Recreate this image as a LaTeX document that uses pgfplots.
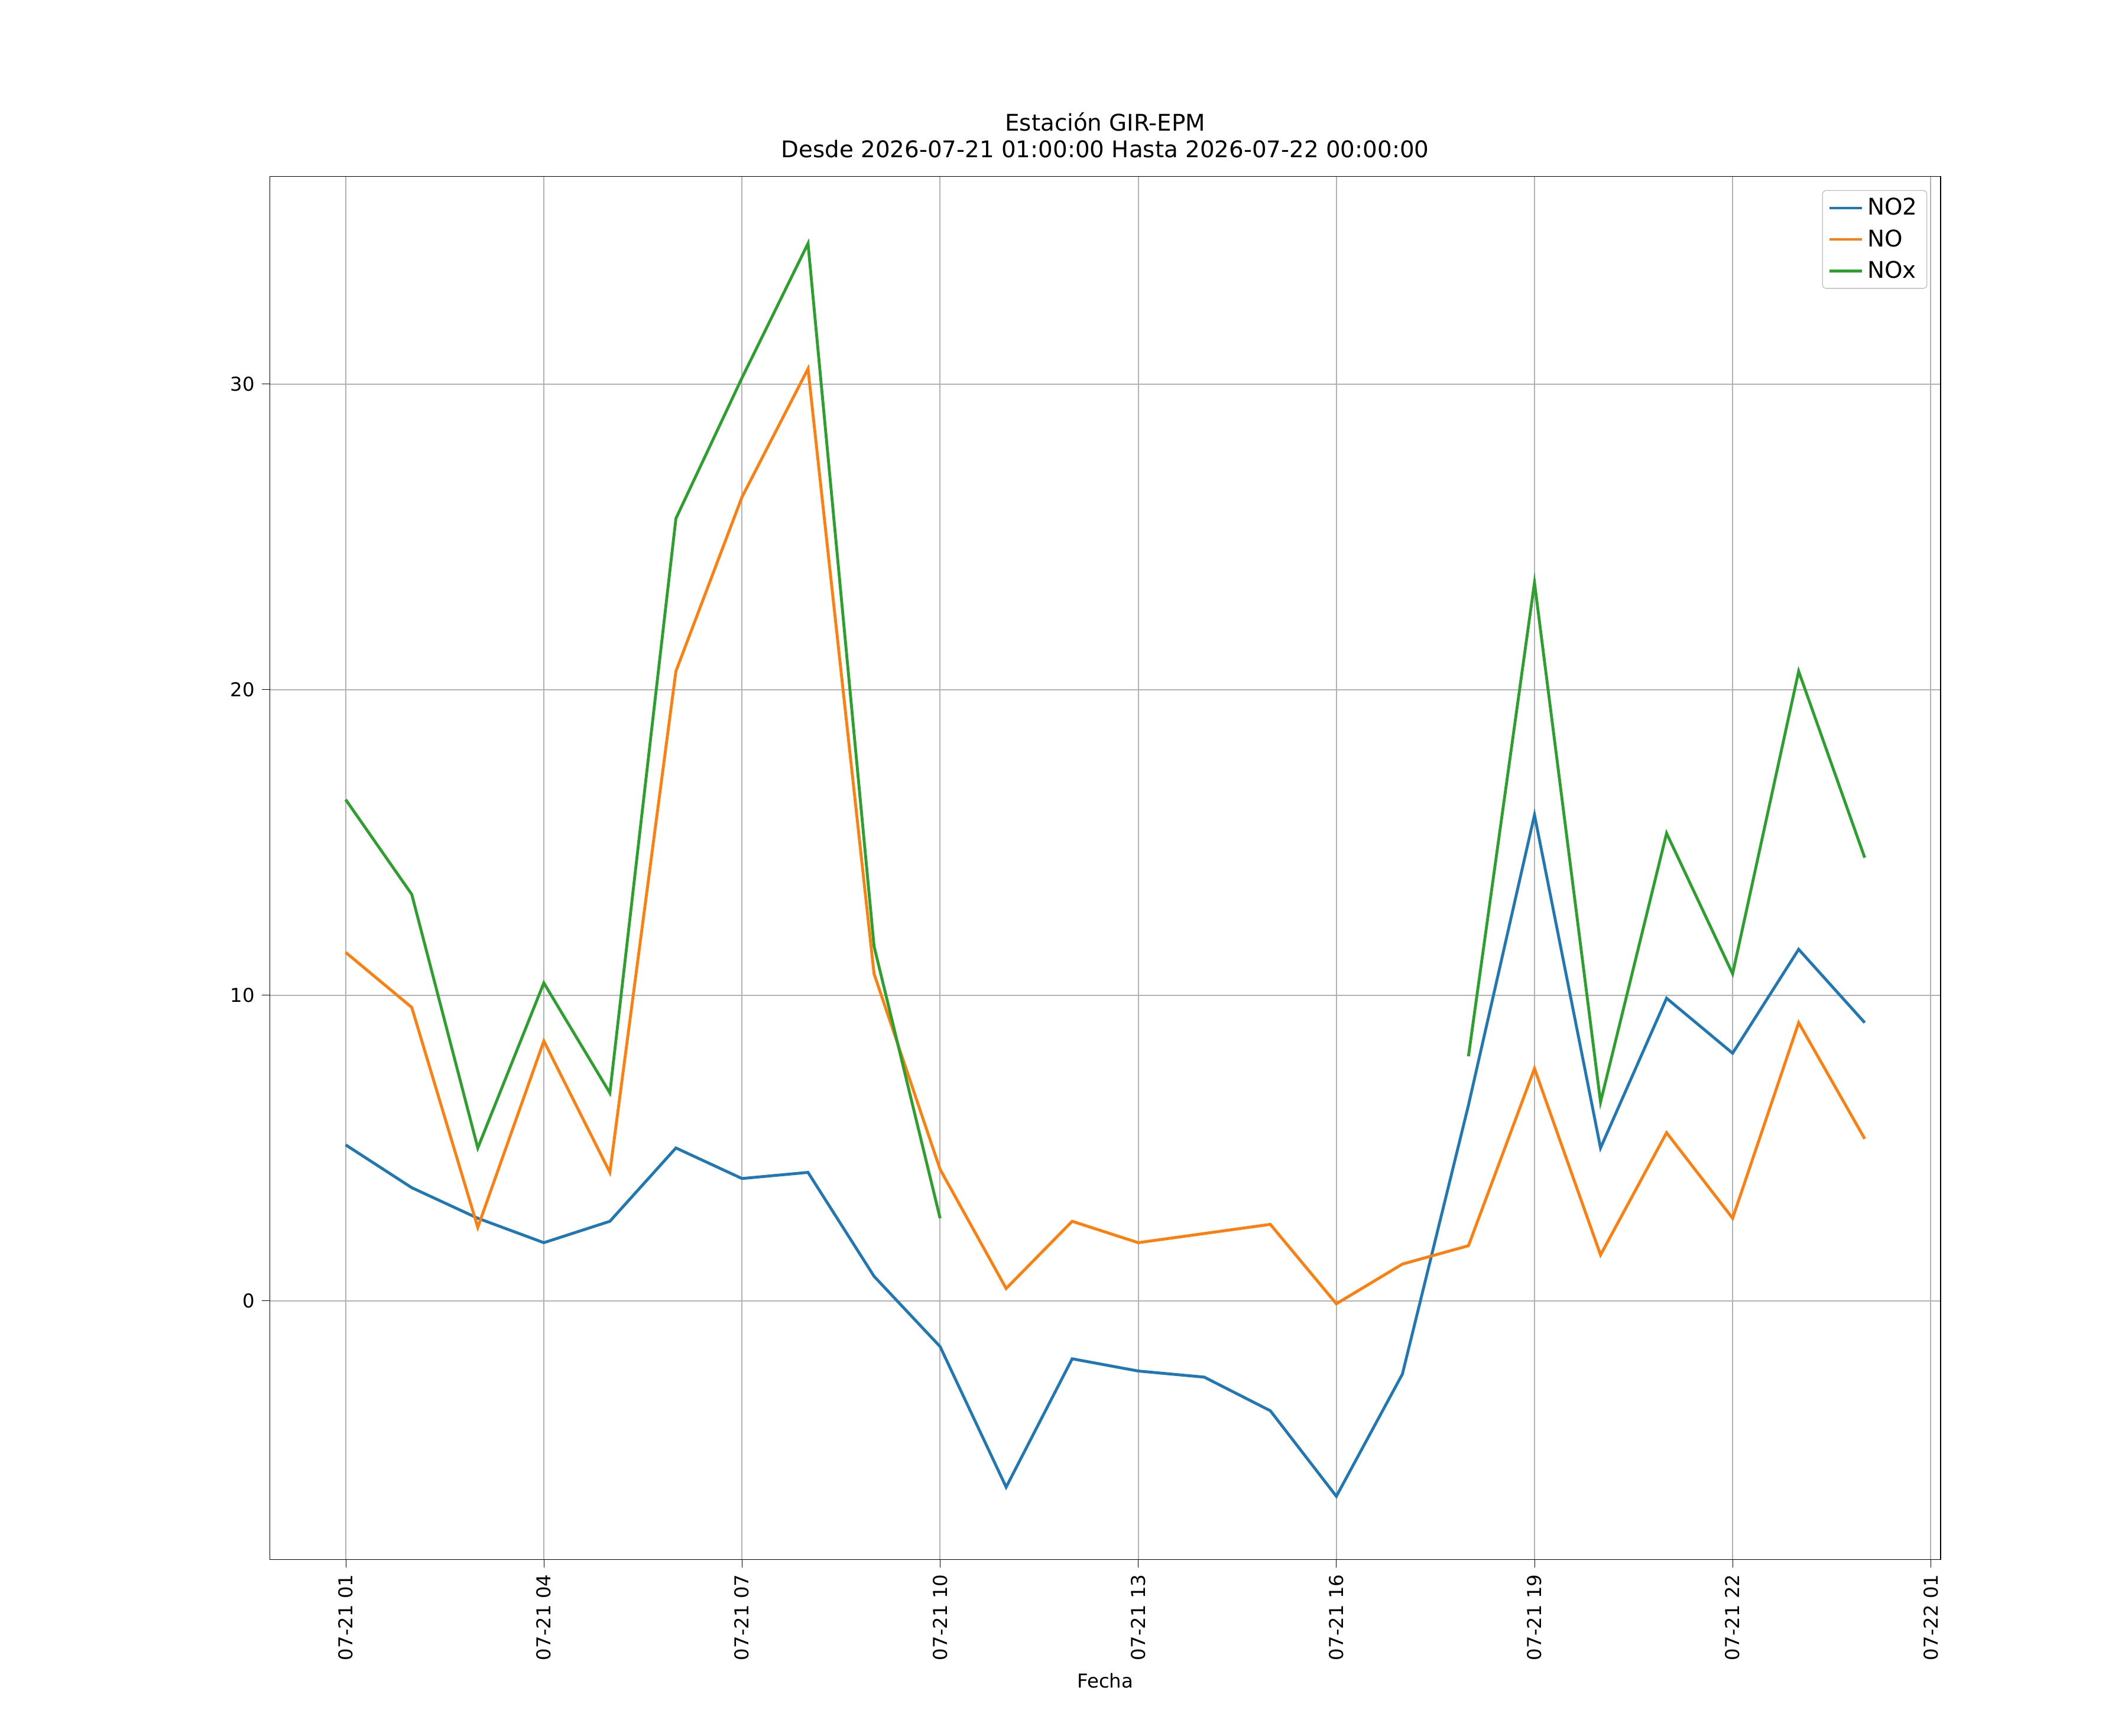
\documentclass[border=0pt]{standalone}
\usepackage{fontspec}
\setmainfont{DejaVu Sans}
\usepackage{pgfplots}
\pgfplotsset{compat=1.18}
\definecolor{c1}{HTML}{1F77B4}
\definecolor{c2}{HTML}{FF7F0E}
\definecolor{c3}{HTML}{2CA02C}
\begin{document}
\begin{tikzpicture}
\begin{axis}[at={(0pt,0pt)},anchor=south west,scale only axis,
width=874pt,height=723.6pt,
xmin=-1.15,xmax=24.15,ymin=-8.47,ymax=36.8,
xtick={0,3,...,24},
xticklabels={07-21 01,07-21 04,07-21 07,07-21 10,07-21 13,07-21 16,07-21 19,07-21 22,07-22 01},
xticklabel style={rotate=90,anchor=east},
ytick={0,10,20,30},
xtick pos=left,ytick pos=left,
grid=major,grid style={gray!60,line width=0.6pt},
/pgf/number format/assume math mode=true,
tick style={black},tick align=outside,
xlabel={Fecha},
title={Estación GIR-EPM\\Desde 2026-07-21 01:00:00 Hasta 2026-07-22 00:00:00},
title style={align=center,font=\large},
legend cell align=left,
legend style={at={(0.992,0.99)},anchor=north east,draw=gray!50,rounded corners=2pt,font=\large,row sep=2pt},
unbounded coords=jump,
every axis plot/.append style={line width=1.5pt,no marks},
]
\addplot[c1] coordinates {(0,5.1)(1,3.7)(2,2.7)(3,1.9)(4,2.6)(5,5.0)(6,4.0)(7,4.2)(8,0.8)(9,-1.5)(10,-6.1)(11,-1.9)(12,-2.3)(13,-2.5)(14,-3.6)(15,-6.4)(16,-2.4)(17,6.4)(18,15.9)(19,5.0)(20,9.9)(21,8.1)(22,11.5)(23,9.1)};
\addplot[c2] coordinates {(0,11.4)(1,9.6)(2,2.4)(3,8.5)(4,4.2)(5,20.6)(6,26.3)(7,30.5)(8,10.7)(9,4.3)(10,0.4)(11,2.6)(12,1.9)(13,2.2)(14,2.5)(15,-0.1)(16,1.2)(17,1.8)(18,7.6)(19,1.5)(20,5.5)(21,2.7)(22,9.1)(23,5.3)};
\addplot[c3] coordinates {(0,16.4)(1,13.3)(2,5.0)(3,10.4)(4,6.8)(5,25.6)(6,30.2)(7,34.6)(8,11.6)(9,2.7)(10,nan)(16,nan)(17,8.0)(18,23.5)(19,6.5)(20,15.3)(21,10.7)(22,20.6)(23,14.5)};
\legend{NO2,NO,NOx}
\end{axis}
\pgfresetboundingbox
\path[use as bounding box] (-141.1pt,-92.2pt) rectangle (972pt,815.8pt);
\end{tikzpicture}
\end{document}
